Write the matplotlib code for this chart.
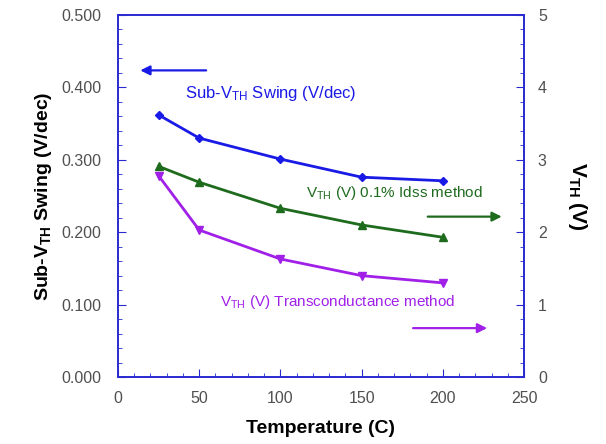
import matplotlib
matplotlib.use("Agg")
import matplotlib.pyplot as plt
from matplotlib.ticker import MultipleLocator, FormatStrFormatter

plt.rcParams['font.family'] = ['Liberation Sans', 'DejaVu Sans']
plt.rcParams['mathtext.default'] = 'regular'

temperature = [25, 50, 100, 150, 200]
swing = [0.362, 0.330, 0.301, 0.276, 0.271]
vth_idss = [2.91, 2.69, 2.33, 2.10, 1.93]
vth_gm = [2.78, 2.03, 1.63, 1.40, 1.30]

blue = '#1a1ae6'
green = '#1e6b1e'
purple = '#a020e8'
frame = '#2a2ad0'
tickc = '#505050'

fig = plt.figure(figsize=(6.06, 4.44), dpi=100)
ax = fig.add_axes([118/606, 1-377/444, (524-118)/606, (377-15)/444])
ax2 = ax.twinx()

ax.plot(temperature, swing, color=blue, lw=2, marker='D', ms=4)
ax2.plot(temperature, vth_idss, color=green, lw=2, marker='^', ms=6)
ax2.plot(temperature, vth_gm, color=purple, lw=2, marker='v', ms=6)

ax.set_xlim(0, 250)
ax.set_ylim(0, 0.5)
ax2.set_ylim(0, 5)
ax.xaxis.set_major_locator(MultipleLocator(50))
ax.xaxis.set_minor_locator(MultipleLocator(10))
ax.yaxis.set_major_locator(MultipleLocator(0.1))
ax.yaxis.set_minor_locator(MultipleLocator(0.02))
ax.yaxis.set_major_formatter(FormatStrFormatter('%.3f'))
ax2.yaxis.set_major_locator(MultipleLocator(1))
ax2.yaxis.set_minor_locator(MultipleLocator(0.2))

for a in (ax, ax2):
    for s in a.spines.values():
        s.set_color(frame)
        s.set_linewidth(1.2)
    a.tick_params(which='both', direction='in', colors=frame, labelcolor=tickc, labelsize=11.5)
    a.tick_params(which='major', length=6)
    a.tick_params(which='minor', length=3)
ax.tick_params(axis='x', pad=10)
ax.tick_params(axis='y', pad=12)
ax2.tick_params(axis='y', pad=10)

ax.set_xlabel('Temperature (C)', fontsize=14, fontweight='bold', labelpad=10)
ax.set_ylabel('Sub-V$_{TH}$ Swing (V/dec)', fontsize=14, fontweight='bold', labelpad=5)
ax2.set_ylabel('V$_{TH}$ (V)', fontsize=15, fontweight='bold', rotation=270, labelpad=30)

# annotations
ax.annotate('', xy=(12, 0.4235), xytext=(56, 0.4235),
            arrowprops=dict(arrowstyle='-|>', color=blue, lw=1.6, mutation_scale=14))
ax.text(41, 0.391, 'Sub-V$_{TH}$ Swing (V/dec)', color=blue, fontsize=12, va='center')

ax.text(116, 0.254, 'V$_{TH}$ (V) 0.1% Idss method', color=green, fontsize=11, va='center')
ax.annotate('', xy=(238, 0.2215), xytext=(189, 0.2215),
            arrowprops=dict(arrowstyle='-|>', color=green, lw=1.6, mutation_scale=14))

ax.text(63, 0.103, 'V$_{TH}$ (V) Transconductance method', color=purple, fontsize=11, va='center')
ax.annotate('', xy=(229, 0.0675), xytext=(180, 0.0675),
            arrowprops=dict(arrowstyle='-|>', color=purple, lw=1.6, mutation_scale=14))

fig.savefig('out.png', dpi=100)
